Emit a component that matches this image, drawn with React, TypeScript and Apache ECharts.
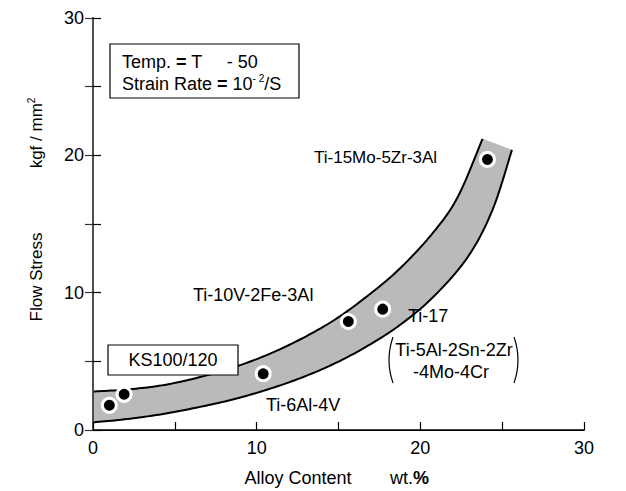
import React, { useEffect, useRef } from "react";
import * as echarts from "echarts";

const alloyContent = [1.0, 1.9, 10.4, 15.6, 17.7, 24.1];
const flowStress = [1.8, 2.6, 4.1, 7.9, 8.8, 19.7];

const bandUpper: number[][] = [
  [0, 2.8], [2.1, 2.95], [4.2, 3.25], [6.2, 3.75], [8.3, 4.45], [10.4, 5.35], [12.5, 6.5],
  [14.6, 7.9], [16.6, 9.6], [18.7, 11.7], [20.8, 14.4], [22.3, 17.0], [23.8, 21.2],
];
const bandLower: number[][] = [
  [0, 0.55], [2.1, 0.8], [4.2, 1.15], [6.2, 1.6], [8.3, 2.15], [10.4, 2.85], [12.5, 3.7],
  [14.6, 4.75], [16.6, 6.0], [18.7, 7.6], [20.8, 9.7], [22.9, 12.6], [24.4, 16.0], [25.6, 20.4],
];

const xTicks = [0, 10, 20, 30];
const yTicks = [0, 10, 20, 30];

const FONT = "'Liberation Sans', Arial, sans-serif";

function spline(pts: number[][]): number[][] {
  const out: number[][] = [];
  const n = pts.length;
  for (let i = 0; i < n - 1; i++) {
    const p0 = pts[Math.max(0, i - 1)];
    const p1 = pts[i];
    const p2 = pts[i + 1];
    const p3 = pts[Math.min(n - 1, i + 2)];
    const steps = 12;
    for (let s = 0; s < steps; s++) {
      const t = s / steps;
      const t2 = t * t;
      const t3 = t2 * t;
      const f = (a: number, b: number, c: number, d: number) =>
        0.5 * (2 * b + (-a + c) * t + (2 * a - 5 * b + 4 * c - d) * t2 + (-a + 3 * b - 3 * c + d) * t3);
      out.push([f(p0[0], p1[0], p2[0], p3[0]), f(p0[1], p1[1], p2[1], p3[1])]);
    }
  }
  out.push(pts[n - 1]);
  return out;
}

function text(t: string, x: number, y: number, extra: any = {}) {
  return {
    type: "text",
    z: 20,
    style: {
      text: t,
      x,
      y,
      fill: "#000",
      fontSize: 18,
      fontFamily: FONT,
      align: "left",
      textAlign: "left",
      verticalAlign: "middle",
      textVerticalAlign: "middle",
      ...extra,
    },
  };
}

export default function App() {
  const ref = useRef<HTMLDivElement>(null);
  useEffect(() => {
    if (!ref.current) return;
    const chart = echarts.init(ref.current, null, { renderer: "svg" });
    const axisCommon = {
      type: "value",
      min: 0,
      max: 30,
      interval: 5,
      splitLine: { show: false },
    };
    const option: any = {
      animation: false,
      backgroundColor: "#fff",
      grid: { left: 93, right: 42, top: 18, bottom: 61 },
      xAxis: [
        {
          ...axisCommon,
          position: "bottom",
          z: 10,
          axisLine: { show: true, lineStyle: { color: "#000", width: 1.5 } },
          axisTick: { show: true, inside: true, length: 8, lineStyle: { color: "#000", width: 1.2 } },
          axisLabel: {
            color: "#000",
            fontSize: 18,
            fontFamily: FONT,
            margin: 9,
            formatter: (v: number) => (xTicks.includes(v) ? String(v) : ""),
          },
        },
        {
          ...axisCommon,
          position: "top",
          z: 10,
          axisLine: { show: true, lineStyle: { color: "#000", width: 1.2 } },
          axisTick: { show: false },
          axisLabel: { show: false },
        },
      ],
      yAxis: [
        {
          ...axisCommon,
          position: "left",
          z: 10,
          axisLine: { show: true, lineStyle: { color: "#000", width: 1.5 } },
          axisTick: { show: true, inside: true, length: 8, lineStyle: { color: "#000", width: 1.2 } },
          axisLabel: {
            color: "#000",
            fontSize: 18,
            fontFamily: FONT,
            margin: 9,
            formatter: (v: number) => (yTicks.includes(v) ? String(v) : ""),
          },
        },
        {
          ...axisCommon,
          position: "right",
          z: 10,
          axisLine: { show: true, lineStyle: { color: "#555", width: 1.5 } },
          axisTick: { show: true, inside: true, length: 8, lineStyle: { color: "#333", width: 1.2 } },
          axisLabel: { show: false },
        },
      ],
      series: [
        {
          type: "custom",
          coordinateSystem: "cartesian2d",
          data: [[0, 0]],
          z: 2,
          renderItem: (params: any, api: any) => {
            const up = spline(bandUpper.map((p) => api.coord(p)));
            const lo = spline(bandLower.map((p) => api.coord(p)));
            const poly = up.concat(lo.slice().reverse());
            return {
              type: "group",
              children: [
                { type: "polygon", shape: { points: poly }, style: { fill: "#bababa", stroke: null } },
                { type: "polyline", shape: { points: up }, style: { stroke: "#000", lineWidth: 2, fill: null } },
                { type: "polyline", shape: { points: lo }, style: { stroke: "#000", lineWidth: 2, fill: null } },
              ],
            };
          },
        },
        {
          type: "scatter",
          z: 5,
          data: alloyContent.map((x, i) => [x, flowStress[i]]),
          symbol: "circle",
          symbolSize: 14,
          itemStyle: { color: "#000", borderColor: "#fff", borderWidth: 3, opacity: 1 },
        },
      ],
      graphic: [
        {
          type: "rect",
          z: 15,
          shape: { x: 110, y: 44, width: 189, height: 54 },
          style: { fill: "#fff", stroke: "#000", lineWidth: 1.2 },
        },
        text("{a|Temp. }{b|=}{a| T     - 50}", 122, 62, {
          rich: { a: { fontSize: 18, fontFamily: FONT }, b: { fontSize: 18, fontFamily: FONT, fontWeight: "bold" } },
        }),
        text("{a|Strain Rate }{b|=}{a| 10}{s|- 2}{a|/S}", 122, 84, {
          rich: {
            a: { fontSize: 18, fontFamily: FONT, lineHeight: 22 },
            b: { fontSize: 18, fontFamily: FONT, fontWeight: "bold", lineHeight: 22 },
            s: { fontSize: 10, fontFamily: FONT, verticalAlign: "top", lineHeight: 22 },
          },
        }),
        {
          type: "rect",
          z: 15,
          shape: { x: 108, y: 345, width: 130, height: 30 },
          style: { fill: "#fff", stroke: "#000", lineWidth: 1.2 },
        },
        text("KS100/120", 173, 360, { fontSize: 18, align: "center", textAlign: "center" }),
        text("Ti-15Mo-5Zr-3Al", 314, 157, { fontSize: 17 }),
        text("Ti-10V-2Fe-3Al", 193, 295),
        text("Ti-17", 408, 316),
        text("Ti-5Al-2Sn-2Zr", 454, 350, { align: "center", textAlign: "center" }),
        text("-4Mo-4Cr", 451, 372, { align: "center", textAlign: "center" }),
        text("Ti-6Al-4V", 266, 405),
        {
          type: "bezierCurve",
          z: 20,
          shape: { x1: 393, y1: 337, x2: 393, y2: 383, cpx1: 385, cpy1: 360 },
          style: { stroke: "#000", lineWidth: 1.2, fill: null },
        },
        {
          type: "bezierCurve",
          z: 20,
          shape: { x1: 514, y1: 337, x2: 514, y2: 383, cpx1: 522, cpy1: 360 },
          style: { stroke: "#000", lineWidth: 1.2, fill: null },
        },
        {
          type: "text",
          z: 20,
          x: 36,
          y: 277,
          rotation: Math.PI / 2,
          style: {
            text: "Flow Stress",
            fill: "#000",
            fontSize: 17,
            fontFamily: FONT,
            align: "center",
            textAlign: "center",
            verticalAlign: "middle",
            textVerticalAlign: "middle",
          },
        },
        {
          type: "text",
          z: 20,
          x: 36,
          y: 133,
          rotation: Math.PI / 2,
          style: {
            text: "kgf / mm{s|2}",
            fill: "#000",
            fontSize: 17,
            fontFamily: FONT,
            align: "center",
            textAlign: "center",
            verticalAlign: "middle",
            textVerticalAlign: "middle",
            rich: { s: { fontSize: 10, fontFamily: FONT, verticalAlign: "top", lineHeight: 20 } },
          },
        },
        text("Alloy Content", 298, 478, { align: "center", textAlign: "center" }),
        text("{a|wt.}{b|%}", 390, 478, {
          rich: { a: { fontSize: 18, fontFamily: FONT }, b: { fontSize: 18, fontFamily: FONT, fontWeight: "bold" } },
        }),
      ],
    };
    chart.setOption(option);
    return () => chart.dispose();
  }, []);
  return (
    <div
      ref={ref}
      style={{ position: "absolute", left: 0, top: 0, width: 626, height: 491, background: "#fff" }}
    />
  );
}
